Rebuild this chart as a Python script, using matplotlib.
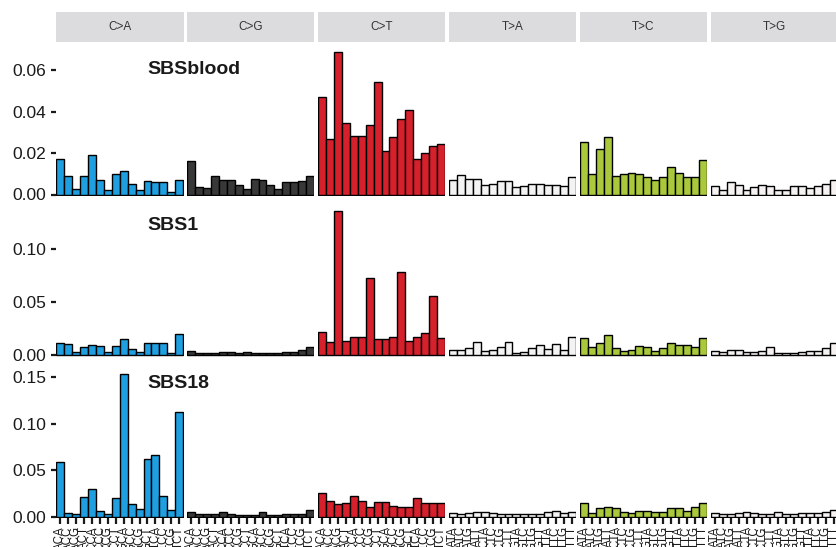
import numpy as np
import matplotlib
matplotlib.use("Agg")
import matplotlib.pyplot as plt
from matplotlib.patches import Rectangle

plt.rcParams["font.family"] = ["Liberation Sans", "DejaVu Sans"]

# ---- data -------------------------------------------------------------
mutation_types = ["C>A", "C>G", "C>T", "T>A", "T>C", "T>G"]
type_colors = ["#1f9fe0", "#383838", "#d6202b", "#f3f3f3", "#a9c83c", "#f6f2f2"]
bases = ["A", "C", "G", "T"]
contexts = [f"{a}{m[0]}{b}" for m in mutation_types for a in bases for b in bases]

signature_names = ["SBSblood", "SBS1", "SBS18"]

sbsblood = [
    # C>A
    0.0170, 0.0087, 0.0025, 0.0087, 0.0190, 0.0071, 0.0020, 0.0100,
    0.0114, 0.0050, 0.0020, 0.0063, 0.0060, 0.0058, 0.0013, 0.0071,
    # C>G
    0.0160, 0.0036, 0.0030, 0.0087, 0.0072, 0.0070, 0.0045, 0.0025,
    0.0076, 0.0070, 0.0045, 0.0025, 0.0060, 0.0060, 0.0067, 0.0091,
    # C>T
    0.0468, 0.0268, 0.0688, 0.0345, 0.0284, 0.0280, 0.0334, 0.0543,
    0.0208, 0.0276, 0.0362, 0.0405, 0.0170, 0.0200, 0.0236, 0.0244,
    # T>A
    0.0069, 0.0093, 0.0077, 0.0076, 0.0048, 0.0052, 0.0064, 0.0063,
    0.0037, 0.0039, 0.0052, 0.0053, 0.0048, 0.0048, 0.0039, 0.0084,
    # T>C
    0.0251, 0.0097, 0.0219, 0.0279, 0.0090, 0.0097, 0.0106, 0.0101,
    0.0085, 0.0069, 0.0082, 0.0134, 0.0106, 0.0085, 0.0085, 0.0166,
    # T>G
    0.0040, 0.0024, 0.0060, 0.0048, 0.0024, 0.0038, 0.0048, 0.0043,
    0.0021, 0.0024, 0.0040, 0.0040, 0.0032, 0.0043, 0.0052, 0.0068,
]

sbs1 = [
    # C>A
    0.0110, 0.0104, 0.0030, 0.0079, 0.0094, 0.0088, 0.0025, 0.0088,
    0.0148, 0.0053, 0.0025, 0.0110, 0.0116, 0.0110, 0.0022, 0.0195,
    # C>G
    0.0040, 0.0022, 0.0022, 0.0022, 0.0030, 0.0025, 0.0022, 0.0030,
    0.0022, 0.0016, 0.0016, 0.0016, 0.0025, 0.0030, 0.0047, 0.0079,
    # C>T
    0.0214, 0.0126, 0.1360, 0.0135, 0.0173, 0.0173, 0.0725, 0.0151,
    0.0151, 0.0166, 0.0785, 0.0135, 0.0166, 0.0207, 0.0553, 0.0157,
    # T>A
    0.0047, 0.0047, 0.0069, 0.0120, 0.0038, 0.0047, 0.0079, 0.0120,
    0.0016, 0.0025, 0.0069, 0.0094, 0.0053, 0.0104, 0.0047, 0.0173,
    # T>C
    0.0157, 0.0079, 0.0116, 0.0188, 0.0069, 0.0038, 0.0047, 0.0085,
    0.0079, 0.0038, 0.0063, 0.0116, 0.0094, 0.0094, 0.0079, 0.0163,
    # T>G
    0.0038, 0.0030, 0.0047, 0.0047, 0.0025, 0.0030, 0.0038, 0.0079,
    0.0016, 0.0016, 0.0016, 0.0030, 0.0038, 0.0038, 0.0063, 0.0110,
]

sbs18 = [
    # C>A
    0.0590, 0.0043, 0.0030, 0.0214, 0.0304, 0.0060, 0.0036, 0.0200,
    0.1530, 0.0143, 0.0082, 0.0625, 0.0660, 0.0230, 0.0071, 0.1130,
    # C>G
    0.0050, 0.0030, 0.0030, 0.0030, 0.0050, 0.0030, 0.0025, 0.0025,
    0.0025, 0.0050, 0.0025, 0.0025, 0.0030, 0.0030, 0.0030, 0.0075,
    # C>T
    0.0253, 0.0175, 0.0140, 0.0153, 0.0225, 0.0171, 0.0104, 0.0157,
    0.0157, 0.0118, 0.0110, 0.0110, 0.0207, 0.0146, 0.0146, 0.0146,
    # T>A
    0.0040, 0.0032, 0.0043, 0.0050, 0.0054, 0.0040, 0.0036, 0.0036,
    0.0036, 0.0032, 0.0036, 0.0036, 0.0050, 0.0068, 0.0043, 0.0054,
    # T>C
    0.0154, 0.0046, 0.0093, 0.0110, 0.0093, 0.0057, 0.0046, 0.0068,
    0.0068, 0.0057, 0.0057, 0.0093, 0.0093, 0.0068, 0.0104, 0.0154,
    # T>G
    0.0040, 0.0036, 0.0036, 0.0043, 0.0050, 0.0043, 0.0036, 0.0036,
    0.0050, 0.0036, 0.0036, 0.0040, 0.0043, 0.0040, 0.0050, 0.0075,
]

signatures = [sbsblood, sbs1, sbs18]
y_ticks = [
    [0.00, 0.02, 0.04, 0.06],
    [0.00, 0.05, 0.10],
    [0.00, 0.05, 0.10, 0.15],
]

# ---- layout (pixels) --------------------------------------------------
W, H = 836, 547
fig = plt.figure(figsize=(W / 100, H / 100), dpi=100)
fig.patch.set_facecolor("white")

facet_left0, facet_step, facet_w = 56.0, 130.9, 127.5
# (top, bottom, zero line, pixels per unit)
rows = [
    (44, 196, 194.5, 2075.0),
    (203, 357, 355.0, 1060.0),
    (366, 518, 517.0, 933.0),
]
title_y = [70, 226, 384]
strip_top, strip_bot = 12, 42

def px_rect(x0, top, w, bottom):
    return [x0 / W, 1 - bottom / H, w / W, (bottom - top) / H]

for r, (name, values, ticks) in enumerate(zip(signature_names, signatures, y_ticks)):
    top, bottom, zero, ppu = rows[r]
    values = np.asarray(values)
    for c, mtype in enumerate(mutation_types):
        x0 = facet_left0 + c * facet_step
        ax = fig.add_axes(px_rect(x0, top, facet_w, bottom))
        seg = values[c * 16:(c + 1) * 16]
        ax.bar(np.arange(16), seg, width=1.0, color=type_colors[c],
               edgecolor="black", linewidth=1.0)
        ax.set_xlim(-0.55, 15.55)
        ax.set_ylim((zero - bottom) / ppu, (zero - top) / ppu)
        for s in ax.spines.values():
            s.set_visible(False)
        ax.set_facecolor("none")

        if c == 0:
            ax.set_yticks(ticks)
            ax.set_yticklabels([f"{t:.2f}" for t in ticks], fontsize=12.5,
                               color="#1a1a1a")
            ax.tick_params(axis="y", length=3.8, width=1.6, pad=3,
                           color="#1a1a1a")
        else:
            ax.set_yticks([])

        if r == len(signature_names) - 1:
            ax.set_xticks(np.arange(16))
            ax.set_xticklabels(contexts[c * 16:(c + 1) * 16], rotation=90,
                               fontsize=8.3, color="#1a1a1a", va="top")
            ax.tick_params(axis="x", length=4.0, width=1.6, pad=2.0,
                           color="#1a1a1a")
        else:
            ax.set_xticks([])

        if r == 0:
            fig.patches.append(Rectangle(
                (x0 / W, 1 - strip_bot / H), facet_w / W,
                (strip_bot - strip_top) / H, transform=fig.transFigure,
                facecolor="#dcdcde", edgecolor="none", zorder=0))
            fig.text((x0 + facet_w / 2) / W, 1 - 27.5 / H, mtype,
                     ha="center", va="center", fontsize=8.5, color="#333333")

    fig.text(147 / W, 1 - title_y[r] / H, name, ha="left", va="center",
             fontsize=14, fontweight="bold", color="#1a1a1a")

fig.savefig("out.png", dpi=100, facecolor="white")
